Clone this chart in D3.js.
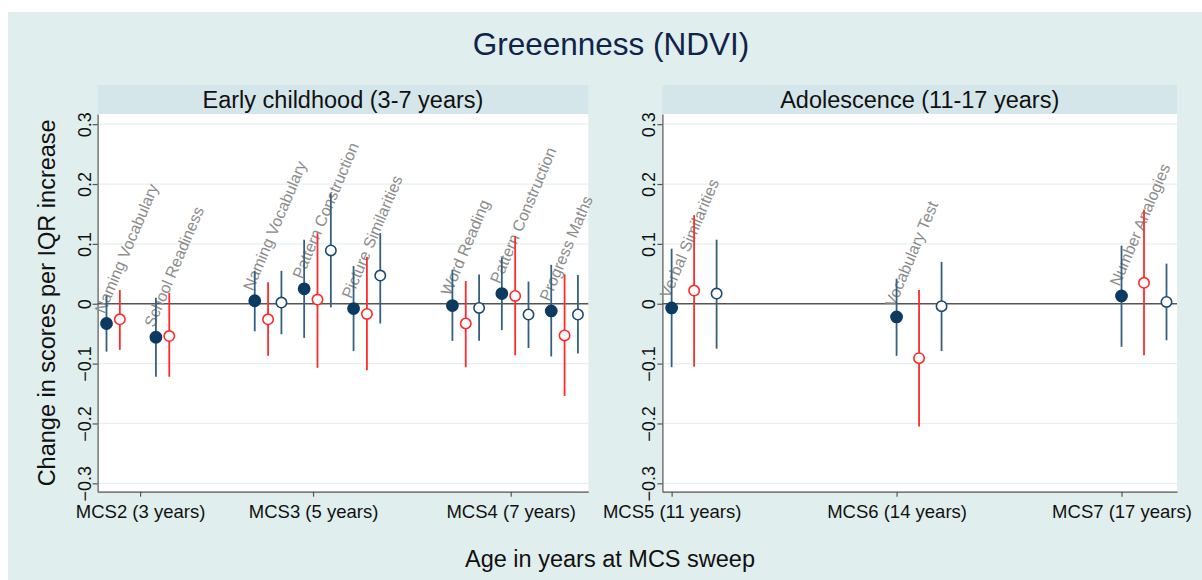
<!DOCTYPE html>
<html>
<head>
<meta charset="utf-8">
<script src="https://cdnjs.cloudflare.com/ajax/libs/d3/7.8.5/d3.min.js"></script>
<style>
  body { margin: 0; background: #ffffff; }
  svg { display: block; font-family: "Liberation Sans", Arial, sans-serif; }
</style>
</head>
<body>
<div id="chart"></div>
<script>
// ************ data ************
const outcomes = ["Naming Vocabulary", "School Readiness",
  "Naming Vocabulary", "Pattern Construction", "Picture Similarities",
  "Word Reading", "Pattern Construction", "Progress Maths",
  "Verbal Similarities", "Vocabulary Test", "Number Analogies"]

// x position of each outcome on its panel (left: slot index, right: age)
const outcomeX = [0, 1, 3, 4, 5, 7, 8, 9, 11, 14, 17]
const outcomePanel = [0, 0, 0, 0, 0, 0, 0, 0, 1, 1, 1]

// model 1 (filled navy)
const m1Est = [-0.033, -0.056, 0.005, 0.025, -0.008, -0.003, 0.017, -0.012, -0.007, -0.022, 0.013]
const m1Lo = [-0.080, -0.122, -0.046, -0.057, -0.079, -0.062, -0.044, -0.088, -0.106, -0.087, -0.072]
const m1Hi = [0.014, 0.010, 0.055, 0.107, 0.063, 0.057, 0.077, 0.065, 0.092, 0.042, 0.097]

// model 2 (open red)
const m2Est = [-0.026, -0.054, -0.026, 0.007, -0.017, -0.033, 0.013, -0.053, 0.022, -0.091, 0.035]
const m2Lo = [-0.077, -0.122, -0.087, -0.107, -0.111, -0.106, -0.086, -0.154, -0.105, -0.205, -0.086]
const m2Hi = [0.023, 0.018, 0.036, 0.118, 0.078, 0.038, 0.113, 0.049, 0.148, 0.023, 0.157]

// model 3 (open navy), not estimated at MCS2
const m3Est = [null, null, 0.002, 0.089, 0.047, -0.007, -0.018, -0.018, 0.017, -0.004, 0.003]
const m3Lo = [null, null, -0.051, -0.006, -0.033, -0.062, -0.074, -0.083, -0.075, -0.079, -0.061]
const m3Hi = [null, null, 0.055, 0.184, 0.118, 0.049, 0.037, 0.048, 0.107, 0.070, 0.067]

const panelTitles = ["Early childhood (3-7 years)", "Adolescence (11-17 years)"]
const leftTickLabels = ["MCS2 (3 years)", "MCS3 (5 years)", "MCS4 (7 years)"]
const leftTickPos = [0.68, 4.18, 8.18]
const rightTickLabels = ["MCS5 (11 years)", "MCS6 (14 years)", "MCS7 (17 years)"]
const rightTickPos = [11, 14, 17]
const yTicks = [-0.3, -0.2, -0.1, 0, 0.1, 0.2, 0.3]

// ************ layout ************
const W = 1202, H = 580
const plotTop = 114, plotBottom = 491.7
const panels = [
  { left: 97.6, right: 588.3, domain: [-0.18, 9.75], offset: 0.27,
    ticks: leftTickPos, labels: leftTickLabels },
  { left: 662.4, right: 1177, domain: [10.877, 17.74], offset: 0.3,
    ticks: rightTickPos, labels: rightTickLabels }
]

const navy = "#0c3a60"
const navyLine = "#35607f"
const red = "#ff2b2b"

const y = d3.scaleLinear()
  .domain([-0.314, 0.317])
  .range([plotBottom, plotTop])

const yFmt = d3.format(".1f")

const svg = d3.select("#chart")
  .append("svg")
  .attr("width", W)
  .attr("height", H)

// outer background
svg.append("rect")
  .attr("x", 8)
  .attr("y", 12)
  .attr("width", W - 8)
  .attr("height", H - 12)
  .attr("fill", "#e1eeee")

// title
svg.append("text")
  .attr("x", 611)
  .attr("y", 55)
  .attr("text-anchor", "middle")
  .style("font-size", "31.5px")
  .style("fill", "#10244a")
  .text("Greeenness (NDVI)")

// y-axis title
svg.append("text")
  .attr("transform", "translate(55," + ((plotTop + plotBottom) / 2) + ") rotate(-90)")
  .attr("text-anchor", "middle")
  .style("font-size", "23.5px")
  .style("fill", "#111")
  .text("Change in scores per IQR increase")

// x-axis title
svg.append("text")
  .attr("x", 610)
  .attr("y", 567)
  .attr("text-anchor", "middle")
  .style("font-size", "23.5px")
  .style("fill", "#111")
  .text("Age in years at MCS sweep")

const models = [
  { est: m1Est, lo: m1Lo, hi: m1Hi, k: 0, line: navyLine, stroke: navy, fill: navy },
  { est: m2Est, lo: m2Lo, hi: m2Hi, k: 1, line: red, stroke: red, fill: "#fff" },
  { est: m3Est, lo: m3Lo, hi: m3Hi, k: 2, line: navyLine, stroke: "#1d4a70", fill: "#fff" }
]

panels.forEach(function(p, pi) {
  const x = d3.scaleLinear()
    .domain(p.domain)
    .range([p.left, p.right])

  const g = svg.append("g")

  // header strip
  g.append("rect")
    .attr("x", p.left)
    .attr("y", 85)
    .attr("width", p.right - p.left)
    .attr("height", plotTop - 85)
    .attr("fill", "#d4e6ea")

  g.append("text")
    .attr("x", (p.left + p.right) / 2)
    .attr("y", 108)
    .attr("text-anchor", "middle")
    .style("font-size", "23.5px")
    .style("fill", "#111")
    .text(panelTitles[pi])

  // plot area
  g.append("rect")
    .attr("x", p.left)
    .attr("y", plotTop)
    .attr("width", p.right - p.left)
    .attr("height", plotBottom - plotTop)
    .attr("fill", "#fff")

  // grid
  g.selectAll(".grid")
    .data(yTicks.filter(function(d) { return d !== 0 }))
    .enter()
    .append("line")
    .attr("x1", p.left)
    .attr("x2", p.right)
    .attr("y1", function(d) { return y(d) })
    .attr("y2", function(d) { return y(d) })
    .attr("stroke", "#e7f0f0")
    .attr("stroke-width", 1.2)

  // zero line
  g.append("line")
    .attr("x1", p.left)
    .attr("x2", p.right)
    .attr("y1", y(0))
    .attr("y2", y(0))
    .attr("stroke", "#555")
    .attr("stroke-width", 1.4)

  // Y-axis
  const yAxis = g.append("g")
    .attr("transform", "translate(" + p.left + ",0)")
    .call(d3.axisLeft(y).tickValues(yTicks).tickSize(5).tickSizeOuter(0)
      .tickFormat(function(d) { return d === 0 ? "0" : yFmt(d) }))
  yAxis.selectAll("text")
    .attr("x", 0)
    .attr("dy", 0)
    .attr("transform", "translate(-7,0) rotate(-90)")
    .attr("text-anchor", "middle")
    .style("font-size", "18px")
    .style("fill", "#111")

  // X-axis
  const xAxis = g.append("g")
    .attr("transform", "translate(0," + plotBottom + ")")
    .call(d3.axisBottom(x).tickValues(p.ticks).tickSize(5).tickSizeOuter(0)
      .tickFormat(function(d, i) { return p.labels[i] }))
  xAxis.selectAll("text")
    .attr("y", 9)
    .attr("dy", "0.95em")
    .style("font-size", "18.5px")
    .style("fill", "#111")

  g.selectAll(".domain, .tick line")
    .attr("stroke", "#555")
    .attr("stroke-width", 1.2)

  const idx = outcomes.map(function(d, i) { return i })
    .filter(function(i) { return outcomePanel[i] === pi })

  // outcome labels
  g.selectAll(".lab")
    .data(idx)
    .enter()
    .append("text")
    .attr("transform", function(i) {
      return "translate(" + (x(outcomeX[i]) - 2) + "," + (y(m1Est[i]) - 9) + ") rotate(-67)"
    })
    .style("font-size", "16px")
    .style("fill", "#8c8c8c")
    .text(function(i) { return outcomes[i] })

  // error bars and markers
  models.forEach(function(m) {
    const pts = idx.filter(function(i) { return m.est[i] !== null })
    const px = function(i) { return x(outcomeX[i] + m.k * p.offset) }

    g.selectAll(".ci" + m.k)
      .data(pts)
      .enter()
      .append("line")
      .attr("x1", px)
      .attr("x2", px)
      .attr("y1", function(i) { return y(m.lo[i]) })
      .attr("y2", function(i) { return y(m.hi[i]) })
      .attr("stroke", m.line)
      .attr("stroke-width", 1.8)

    g.selectAll(".pt" + m.k)
      .data(pts)
      .enter()
      .append("circle")
      .attr("cx", px)
      .attr("cy", function(i) { return y(m.est[i]) })
      .attr("r", m.k === 0 ? 5.6 : 5.2)
      .attr("fill", m.fill)
      .attr("stroke", m.stroke)
      .attr("stroke-width", 1.6)
  })
})
</script>
</body>
</html>
